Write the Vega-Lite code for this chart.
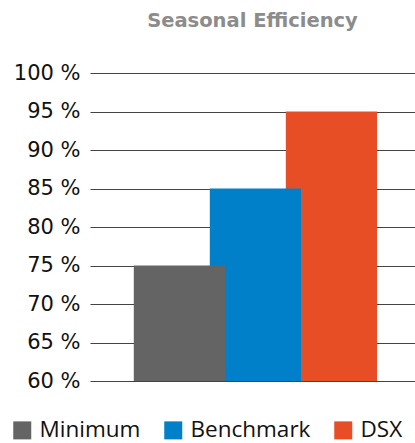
{
  "$schema": "https://vega.github.io/schema/vega-lite/v6.json",
  "autosize": "none",
  "width": 325,
  "height": 308,
  "padding": {"left": 90, "top": 73, "right": 0, "bottom": 62},
  "background": "white",
  "title": {
    "text": "Seasonal Efficiency",
    "font": "DejaVu Sans",
    "fontSize": 19.5,
    "fontWeight": "bold",
    "color": "#8c8c8c",
    "anchor": "middle",
    "offset": 31
  },
  "data": {
    "values": [
      {"category": "DSX", "efficiency": 95},
      {"category": "Benchmark", "efficiency": 85},
      {"category": "Minimum", "efficiency": 75}
    ]
  },
  "mark": {"type": "bar", "width": {"band": 1.2}, "stroke": null},
  "encoding": {
    "x": {
      "field": "category",
      "type": "nominal",
      "sort": ["Minimum", "Benchmark", "DSX"],
      "scale": {"paddingInner": 0, "paddingOuter": 0.638, "align": 0.53},
      "axis": null
    },
    "y": {
      "field": "efficiency",
      "type": "quantitative",
      "scale": {"domain": [60, 100], "zero": false, "nice": false},
      "axis": {
        "values": [60, 65, 70, 75, 80, 85, 90, 95, 100],
        "labelExpr": "datum.value + ' %'",
        "labelFont": "DejaVu Sans",
        "labelFontSize": 21,
        "labelColor": "#111111",
        "labelPadding": 10,
        "domain": false,
        "ticks": false,
        "grid": true,
        "gridColor": "#444444",
        "gridWidth": 1,
        "gridOpacity": 1,
        "title": null
      }
    },
    "y2": {"datum": 60},
    "color": {
      "field": "category",
      "type": "nominal",
      "sort": ["Minimum", "Benchmark", "DSX"],
      "scale": {
        "domain": ["Minimum", "Benchmark", "DSX"],
        "range": ["#646464", "#0080c8", "#e84e25"]
      },
      "legend": {
        "orient": "none",
        "legendX": -79,
        "legendY": 346,
        "direction": "horizontal",
        "title": null,
        "symbolType": "square",
        "symbolSize": 324,
        "symbolStrokeWidth": 0,
        "symbolOpacity": 1,
        "labelFont": "Open Sans",
        "labelFontSize": 22.5,
        "labelColor": "#111111",
        "labelOffset": 6,
        "columnPadding": 21
      }
    }
  },
  "config": {"view": {"stroke": null}}
}
